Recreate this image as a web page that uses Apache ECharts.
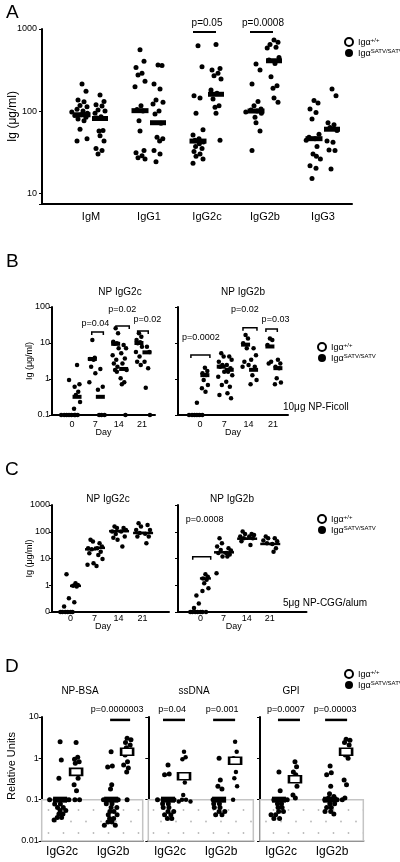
<!DOCTYPE html>
<html><head><meta charset="utf-8">
<script src="https://cdn.jsdelivr.net/npm/echarts@6/dist/echarts.min.js"></script>
<style>html,body{margin:0;padding:0;background:#fff}#c{width:400px;height:862px}</style>
</head><body><div id="c"></div>
<script>
// ---------------- DATA ----------------
const WT = 'Igα+/+', MUT = 'IgαSATV/SATV';
// Panel A: total Ig (µg/ml)
const aCats = ['IgM', 'IgG1', 'IgG2c', 'IgG2b', 'IgG3'];
const aWt = [
  [213,174,136,130,117,113,105,100,97,94,90,88,84,80,76,60,46,43],
  [560,404,340,288,275,230,198,116,104,100,76,57,33,31,28.5,27,26],
  [625,347,154,144,94,59,51,46,44,42,40,37,35,32,30,28,26,23],
  [374,316,213,131,116,106,103,100,97,94,84,72,57,33],
  [134,125,106,96,80,52,48,46,44,37,30,28,26,21.5,20,15]
];
const aMut = [
  [157,131,119,115,103,100,94,85,82,58,57,50,43,35,33,30],
  [364,360,213,185,136,128,122,100,92,71,48,46,43,33,30,24],
  [645,331,316,288,270,245,180,165,140,116,111,94,44],
  [736,687,645,600,586,450,420,380,262,203,190,144,128],
  [185,154,72,68,63,58,43,41.5,33.5,33,19.6]
];
const aWtMed = [90, 101, 43, 100, 46];
const aMutMed = [81, 72, 160, 410, 60];
const aTicks = [10, 100, 1000];
const aPLabels = ['p=0.05', 'p=0.0008'];
const aPCats = [2, 3];
const aPLine = [919, 919];
const aPText = [1184, 1184];

// Panel B: NP-specific, 10µg NP-Ficoll
const days = ['0', '7', '14', '21'];
const bG2cWt = [[0.94,0.1,0.1,0.1,0.1,0.1,0.1],[12.1,3.9,3.6,3.4,2.2,1.44,0.81],[25.6,18.6,10.8,9.8,9.5,7.1,4.6,3.4,2.7,2.2,1.78,1.6],[18.6,14.9,12.1,10.5,9.8,7.9,5.6,4.2,3.0,2.45]];
const bG2cMut = [[2.45,0.71,0.61,0.44,0.36,0.23,0.15,0.1,0.1],[1.9,0.61,0.5,0.1,0.1,0.1],[8.8,7.2,5.2,3.7,2.7,1.78,1.05,0.81,0.71,0.1],[7.9,5.6,3.0,2.0,0.57,0.1]];
const bG2cWtMed = [0.1, 3.6, 9.5, 10];
const bG2cMutMed = [0.32, 0.32, 1.9, 5.5];
const bG2bWt = [[0.22,0.1,0.1,0.1,0.1,0.1,0.1],[5.2,4.2,3.0,2.45,2.2,1.6,1.16,0.68,0.36],[16.7,13.4,9.8,7.1,3.0,2.45,2.2],[13.4,12.1,8.8,3.0,2.7]];
const bG2bMut = [[2.07,1.67,1.44,1.3,0.94,0.68,0.55,0.44],[4.2,3.4,2.45,2.0,1.6,1.28,0.84,0.61,0.4,0.29],[7.2,4.6,3.4,2.2,1.28,0.94,0.71],[3.4,2.7,2.2,2.0,1.05,0.8,0.71]];
const bG2bWtMed = [0.1, 2.2, 9.0, 8.0];
const bG2bMutMed = [1.28, 1.8, 1.8, 2.0];
const bTicks = [0.1, 1, 10, 100];
const bLP = ['p=0.04', 'p=0.02', 'p=0.02'], bLPCats = [1, 2, 3], bLPLine = [20.2, 29.7, 21.5], bLPText = [33.7, 82.6, 43.5];
const bRP = ['p=0.0002', 'p=0.02', 'p=0.03'], bRPCats = [0, 2, 3], bRPLine = [4.64, 26.6, 24.5], bRPText = [14.0, 82.6, 43.5];

// Panel C: NP-specific, 5µg NP-CGG/alum
const cG2cWt = [[2.58,0.33,0.16,0.1,0.1,0.1,0.1,0.1,0.1],[50,43,24,22,15.8,6.6,5.8],[157,137,102,82,60,50],[210,157,117,90,66]];
const cG2cMut = [[1.19,1.03,0.95,0.89,0.23],[37,28,24,18,13.6,9.6,5.3],[137,117,102,66,28],[180,117,84,66,37]];
const cG2cWtMed = [0.1, 22, 105, 90];
const cG2cMutMed = [0.95, 25, 105, 90];
const cG2bWt = [[0.41,0.21,0.14,0.1,0.1,0.1,0.1,0.1,0.1],[57,37,28,21,16,12,2.8],[102,82,66,57,44],[66,57,47,37]];
const cG2bMut = [[2.6,2.1,1.8,1.6,1.2,0.77,0.61,0.1],[24,20,16,14,12],[82,75,66,57,32],[57,44,35,24,18]];
const cG2bWtMed = [0.1, 17, 55, 35];
const cG2bMutMed = [1.8, 17, 55, 35];
const cTicks = [0.1, 1, 10, 100, 1000];
const cRP = ['p=0.0008'], cRPCats = [0], cRPLine = [11.7], cRPText = [275];

// Panel D: autoantibodies, relative units
const dCats = ['IgG2c', 'IgG2b'];
const dTitles = ['NP-BSA', 'ssDNA', 'GPI'];
const dBsaWt = [[2.53,0.91,0.33,0.1,0.1,0.1,0.1,0.079,0.079,0.065,0.065,0.055,0.055,0.045,0.045,0.037,0.037,0.032],[1.45,0.65,0.62,0.23,0.18,0.1,0.1,0.1,0.1,0.08,0.08,0.065,0.065,0.052,0.052,0.043,0.043,0.035,0.035,0.029,0.029,0.024,0.024]];
const dBsaMut = [[2.4,1.06,0.95,0.83,0.76,0.33,0.23,0.165,0.1,0.1,0.1],[3.07,2.8,2.4,2.1,1.8,1.6,1.2,0.83,0.69,0.58,0.47,0.1]];
const dBsaWtMed = [0.1, 0.1], dBsaMutMed = [0.47, 1.45];
const dDnaWt = [[0.69,0.42,0.40,0.1,0.1,0.1,0.1,0.08,0.08,0.065,0.065,0.052,0.052,0.043,0.043,0.035,0.035],[1.0,0.30,0.21,0.18,0.1,0.1,0.1,0.08,0.08,0.065,0.065,0.052,0.052,0.043,0.043]];
const dDnaMut = [[1.45,1.06,0.95,0.26,0.13,0.1,0.1,0.09,0.09],[2.53,1.45,1.0,0.47,0.33,0.21,0.1]];
const dDnaWtMed = [0.1, 0.1], dDnaMutMed = [0.37, 0.87];
const dGpiWt = [[0.47,0.165,0.1,0.1,0.1,0.1,0.08,0.08,0.065,0.065,0.052,0.052,0.043,0.043,0.035,0.035],[0.65,0.45,0.40,0.21,0.14,0.12,0.11,0.1,0.1,0.1,0.08,0.08,0.065,0.065,0.052,0.052,0.045]];
const dGpiMut = [[0.83,0.63,0.47,0.40,0.30,0.21,0.13,0.11],[2.9,2.75,2.4,2.1,1.2,1.0,0.30,0.23,0.11]];
const dGpiWtMed = [0.1, 0.1], dGpiMutMed = [0.31, 1.45];
const dTicks = [0.01, 0.1, 1, 10];
const dP = [['p=0.0000003'], ['p=0.04', 'p=0.001'], ['p=0.0007', 'p=0.00003']];
const dPCats = [[1], [0, 1], [0, 1]];
const dPLine = 8.5, dPText = 14.9;

// ---------------- LAYOUT / STYLE ----------------
const FONT = '"Liberation Sans", Arial, Helvetica, sans-serif';
const BLACK = '#000';

function swarm(vals, pxPerDec, size, spread, sep) {
  const pat = [0, 0.8, -0.8, 0.4, -0.4, 1, -1, 0.2, -0.6, 0.6, -0.2];
  const placed = [];
  const minD = size * sep;
  return vals.map((v, i) => {
    const y = Math.log10(v) * pxPerDec;
    const pref = pat[i % pat.length] * spread;
    let best = pref;
    for (let k = 0; k < 14; k++) {
      const c = pref + (k % 2 ? 1 : -1) * Math.ceil(k / 2) * minD * 0.6;
      if (placed.every(p => (p[0] - c) ** 2 + (p[1] - y) ** 2 >= minD * minD)) { best = c; break; }
    }
    placed.push([best, y]);
    return best;
  });
}

function pointSeries(name, ax, groups, base, pxPerDec, size, spread, sep, extra) {
  const data = [];
  groups.forEach((vals, ci) => {
    const offs = swarm(vals, pxPerDec, size, spread, sep);
    vals.forEach((v, j) => data.push({ value: [ci, v], symbolOffset: [base + offs[j], 0] }));
  });
  return Object.assign({
    type: 'scatter', name, xAxisIndex: ax, yAxisIndex: ax, symbol: 'circle', symbolSize: size,
    itemStyle: { color: BLACK, opacity: 1 }, silent: true, z: 3, animation: false, data
  }, extra || {});
}

function medianSeries(name, ax, meds, base, size, style) {
  return {
    type: 'scatter', name, xAxisIndex: ax, yAxisIndex: ax, symbol: 'rect', symbolSize: size,
    itemStyle: Object.assign({ opacity: 1 }, style), silent: true, z: 4, animation: false,
    data: meds.map((m, ci) => ({ value: [ci, m], symbolOffset: [base, 0] }))
  };
}

function annoSeries(ax, cats, lineVals, textVals, labels, offs, opt) {
  return {
    type: 'custom', xAxisIndex: ax, yAxisIndex: ax, silent: true, clip: false, z: 5, animation: false,
    data: cats.map((c, i) => [c, lineVals[i], textVals[i]]),
    renderItem: (params, api) => {
      const i = params.dataIndex, o = offs[i];
      const pl = api.coord([api.value(0), api.value(1)]);
      const pt = api.coord([api.value(0), api.value(2)]);
      const x1 = pl[0] + o[0], x2 = pl[0] + o[1], y = pl[1];
      const pts = opt.bracket ? [[x1, y + opt.bracket], [x1, y], [x2, y], [x2, y + opt.bracket]] : [[x1, y], [x2, y]];
      return {
        type: 'group', children: [
          { type: 'polyline', shape: { points: pts }, style: { stroke: BLACK, lineWidth: opt.lw, fill: null } },
          { type: 'text', style: { text: labels[i], x: pl[0] + o[2], y: pt[1], align: 'center', verticalAlign: 'middle', fontSize: opt.fs, fontFamily: FONT, fill: BLACK } }
        ]
      };
    }
  };
}

function logFmt(zeroForTenth) {
  return v => {
    const l = Math.log10(v), e = Math.round(l);
    if (Math.abs(l - e) > 1e-6) return '';
    if (zeroForTenth && e === -1) return '0';
    return e >= 0 ? String(Math.pow(10, e)) : Math.pow(10, e).toFixed(-e);
  };
}

function xAx(grid, min, max, cats, fs, margin, name, nameGap, namePad) {
  return {
    type: 'value', gridIndex: grid, min, max,
    axisLine: { show: true, onZero: false, lineStyle: { color: BLACK, width: 2 } },
    axisTick: { show: false }, splitLine: { show: false },
    axisLabel: { customValues: cats.map((c, i) => i), formatter: v => cats[Math.round(v)] || '', fontSize: fs, color: BLACK, fontFamily: FONT, margin },
    name: name || '', nameLocation: 'middle', nameGap: nameGap || 0, nameMoveOverlap: false,
    nameTextStyle: { fontSize: 9, color: BLACK, fontFamily: FONT, padding: namePad || 0 }
  };
}

function yAx(grid, min, max, showLabels, fmt, fs, margin, name, nameGap, nameFs, namePad) {
  return {
    type: 'log', logBase: 10, gridIndex: grid, min, max,
    axisLine: { show: true, onZero: false, lineStyle: { color: BLACK, width: 2 } },
    axisTick: { show: true, length: 3, lineStyle: { color: BLACK, width: 1 } },
    splitLine: { show: false }, minorTick: { show: false },
    axisLabel: { show: showLabels, formatter: fmt, fontSize: fs, color: BLACK, fontFamily: FONT, margin },
    name: name || '', nameLocation: 'middle', nameGap: nameGap || 0, nameRotate: 90, nameMoveOverlap: false,
    nameTextStyle: { fontSize: nameFs || 9, color: BLACK, fontFamily: FONT, padding: namePad || 0 }
  };
}

// dotted pattern for the "below detection" box
const pc = document.createElement('canvas');
pc.width = 15; pc.height = 23;
const g = pc.getContext('2d');
g.fillStyle = '#ffffff'; g.fillRect(0, 0, 15, 23);
g.fillStyle = '#b8b8b8';
g.beginPath(); g.arc(3.5, 5, 0.9, 0, Math.PI * 2); g.fill();
g.beginPath(); g.arc(11, 16.5, 0.9, 0, Math.PI * 2); g.fill();

const legendRich = {
  a: { fontSize: 9, fontFamily: FONT, color: BLACK, lineHeight: 10, verticalAlign: 'bottom' },
  s: { fontSize: 6, fontFamily: FONT, color: BLACK, lineHeight: 10, verticalAlign: 'top' }
};
function legendAt(left, top) {
  return {
    left, top, orient: 'vertical', itemWidth: 8, itemHeight: 8, itemGap: 1, selectedMode: false, padding: 0,
    data: [
      { name: WT, icon: 'circle', itemStyle: { color: '#fff', borderColor: BLACK, borderWidth: 2 } },
      { name: MUT, icon: 'circle', itemStyle: { color: BLACK } }
    ],
    formatter: n => n === WT ? '{a|Igα}{s|+/+}' : '{a|Igα}{s|SATV/SATV}',
    textStyle: { rich: legendRich }
  };
}

const titleStyle = (fs) => ({ fontSize: fs, fontWeight: 'normal', color: BLACK, fontFamily: FONT });
const titles = [
  { text: 'A', left: 1, top: -2, textStyle: titleStyle(19) },
  { text: 'B', left: 1, top: 247, textStyle: titleStyle(19) },
  { text: 'C', left: 0, top: 455, textStyle: titleStyle(19) },
  { text: 'D', left: 0, top: 652, textStyle: titleStyle(19) },
  { text: 'NP IgG2c', left: 115, top: 282, textAlign: 'center', textStyle: titleStyle(10) },
  { text: 'NP IgG2b', left: 238, top: 282, textAlign: 'center', textStyle: titleStyle(10) },
  { text: 'NP IgG2c', left: 103, top: 489, textAlign: 'center', textStyle: titleStyle(10) },
  { text: 'NP IgG2b', left: 227, top: 489, textAlign: 'center', textStyle: titleStyle(10) },
  { text: '10μg NP-Ficoll', left: 278, top: 397, textStyle: titleStyle(10) },
  { text: '5μg NP-CGG/alum', left: 278, top: 593, textStyle: titleStyle(10) },
  { text: dTitles[0], left: 75, top: 681, textAlign: 'center', textStyle: titleStyle(10) },
  { text: dTitles[1], left: 189, top: 681, textAlign: 'center', textStyle: titleStyle(10) },
  { text: dTitles[2], left: 286, top: 681, textAlign: 'center', textStyle: titleStyle(10) }
];

const grids = [
  { left: 42, top: 29, width: 310, height: 175 },
  { left: 52, top: 307, width: 103, height: 108 },
  { left: 178, top: 307, width: 110, height: 108 },
  { left: 52, top: 505, width: 117, height: 107 },
  { left: 178, top: 505, width: 128.5, height: 107 },
  { left: 41.7, top: 717, width: 101, height: 124 },
  { left: 148.3, top: 717, width: 105, height: 124 },
  { left: 260, top: 717, width: 103.3, height: 124 }
].map(gr => Object.assign({ containLabel: false, outerBoundsMode: 'none' }, gr));

const xAxes = [
  xAx(0, -0.845, 4.5, aCats, 11, 7),
  xAx(1, -0.86, 3.56, days, 9, 5, 'Day', 13.5),
  xAx(2, -0.9, 3.62, days, 9, 5, 'Day', 13.5),
  xAx(3, -0.77, 4.1, days, 9, 2.5, 'Day', 10.5, [0, 15, 0, 0]),
  xAx(4, -0.97, 4.59, days, 9, 2.5, 'Day', 10.5, [0, 17, 0, 0]),
  xAx(5, -0.4, 1.58, dCats, 12, 5),
  xAx(6, -0.425, 1.63, dCats, 12, 5),
  xAx(7, -0.41, 1.61, dCats, 12, 5)
];
const yAxes = [
  yAx(0, 7.35, aTicks[2], true, logFmt(false), 9, 5, 'Ig (μg/ml)', 23.5, 12),
  yAx(1, bTicks[0], bTicks[3], true, logFmt(false), 9, 2, 'Ig (μg/ml)', 17.5, 9),
  yAx(2, bTicks[0], bTicks[3], false, logFmt(false), 9, 2),
  yAx(3, cTicks[0], cTicks[4], true, logFmt(true), 9, 2, 'Ig (μg/ml)', 17.5, 9),
  yAx(4, cTicks[0], cTicks[4], false, logFmt(true), 9, 2),
  yAx(5, dTicks[0], dTicks[3], true, logFmt(false), 9, 3, 'Relative Units', 24, 11, [0, 0, 0, 26]),
  yAx(6, dTicks[0], dTicks[3], false, logFmt(false), 9, 3),
  yAx(7, dTicks[0], dTicks[3], false, logFmt(false), 9, 3)
];

const blackBar = { color: BLACK };
const dMutBar = { color: '#fff', borderColor: BLACK, borderWidth: 2 };
const series = [];
// A
series.push(pointSeries(WT, 0, aWt, -9, 82, 5, 5, 0.8));
series.push(pointSeries(MUT, 0, aMut, 9, 82, 5, 5, 0.8));
series.push(medianSeries(WT, 0, aWtMed, -9, [17, 5], blackBar));
series.push(medianSeries(MUT, 0, aMutMed, 9, [16, 5], blackBar));
series.push(annoSeries(0, aPCats, aPLine, aPText, aPLabels, [[-14, 9, 0], [-15, 8, -2]], { lw: 2, fs: 10 }));
// B
series.push(pointSeries(WT, 1, bG2cWt, -3, 36, 4.5, 3, 0.45));
series.push(pointSeries(MUT, 1, bG2cMut, 5, 36, 4.5, 3, 0.45));
series.push(medianSeries(WT, 1, bG2cWtMed, -3, [9, 4], blackBar));
series.push(medianSeries(MUT, 1, bG2cMutMed, 5, [9, 4], blackBar));
series.push(annoSeries(1, bLPCats, bLPLine, bLPText, bLP, [[-3.6, 8, 0], [-2.7, 10.6, 3.6], [-4.3, 6.3, 5.5]], { lw: 1.5, fs: 9, bracket: 3 }));
series.push(pointSeries(WT, 2, bG2bWt, -3, 36, 4.5, 3, 0.45));
series.push(pointSeries(MUT, 2, bG2bMut, 5, 36, 4.5, 3, 0.45));
series.push(medianSeries(WT, 2, bG2bWtMed, -3, [9, 4], blackBar));
series.push(medianSeries(MUT, 2, bG2bMutMed, 5, [9, 4], blackBar));
series.push(annoSeries(2, bRPCats, bRPLine, bRPText, bRP, [[-9, 10, 1], [-5.6, 8.4, -3.6], [-7, 4.4, 2.6]], { lw: 1.5, fs: 9, bracket: 3 }));
// C
series.push(pointSeries(WT, 3, cG2cWt, -4, 26.75, 4.5, 3, 0.4));
series.push(pointSeries(MUT, 3, cG2cMut, 5, 26.75, 4.5, 3, 0.4));
series.push(medianSeries(WT, 3, cG2cWtMed, -4, [11, 2.5], blackBar));
series.push(medianSeries(MUT, 3, cG2cMutMed, 5, [11, 2.5], blackBar));
series.push(pointSeries(WT, 4, cG2bWt, -4, 26.75, 4.5, 3, 0.4));
series.push(pointSeries(MUT, 4, cG2bMut, 5, 26.75, 4.5, 3, 0.4));
series.push(medianSeries(WT, 4, cG2bWtMed, -4, [11, 2.5], blackBar));
series.push(medianSeries(MUT, 4, cG2bMutMed, 5, [11, 2.5], blackBar));
series.push(annoSeries(4, cRPCats, cRPLine, cRPText, cRP, [[-7.7, 10.3, 4.3]], { lw: 1.5, fs: 9, bracket: 3 }));
// D
const dWt = [dBsaWt, dDnaWt, dGpiWt], dMut = [dBsaMut, dDnaMut, dGpiMut];
const dWtMed = [dBsaWtMed, dDnaWtMed, dGpiWtMed], dMutMed = [dBsaMutMed, dDnaMutMed, dGpiMutMed];
const dPOffs = [[[-3, 17, 4]], [[-7, 15, 2], [-8, 14, 1]], [[-3, 19, 5], [-7, 15, 3]]];
for (let k = 0; k < 3; k++) {
  const ax = 5 + k;
  series.push(pointSeries(WT, ax, dWt[k], -2, 41.3, 5, 1.5, 0.75, {
    markArea: {
      silent: true, z: 1,
      itemStyle: { color: { image: pc, repeat: 'repeat' }, borderColor: '#c4c4c4', borderWidth: 1.5 },
      data: [[{ yAxis: dTicks[1] }, { yAxis: dTicks[0] }]]
    }
  }));
  series.push(pointSeries(MUT, ax, dMut[k], 14, 41.3, k === 1 ? 4.5 : 5, 2, 0.75));
  series.push(medianSeries(WT, ax, dWtMed[k], -2, [14, 6], blackBar));
  series.push(medianSeries(MUT, ax, dMutMed[k], 14, [12, 7], dMutBar));
  series.push(annoSeries(ax, dPCats[k], dPCats[k].map(() => dPLine), dPCats[k].map(() => dPText), dP[k], dPOffs[k], { lw: 2.5, fs: 9 }));
}

const chart = echarts.init(document.getElementById('c'), null, { renderer: 'canvas', width: 400, height: 862 });
chart.setOption({
  backgroundColor: '#fff',
  animation: false,
  textStyle: { fontFamily: FONT, color: BLACK },
  title: titles,
  legend: [legendAt(344, 37), legendAt(317, 342), legendAt(317, 514), legendAt(344, 669)],
  grid: grids,
  xAxis: xAxes,
  yAxis: yAxes,
  series
});
</script>
</body></html>
